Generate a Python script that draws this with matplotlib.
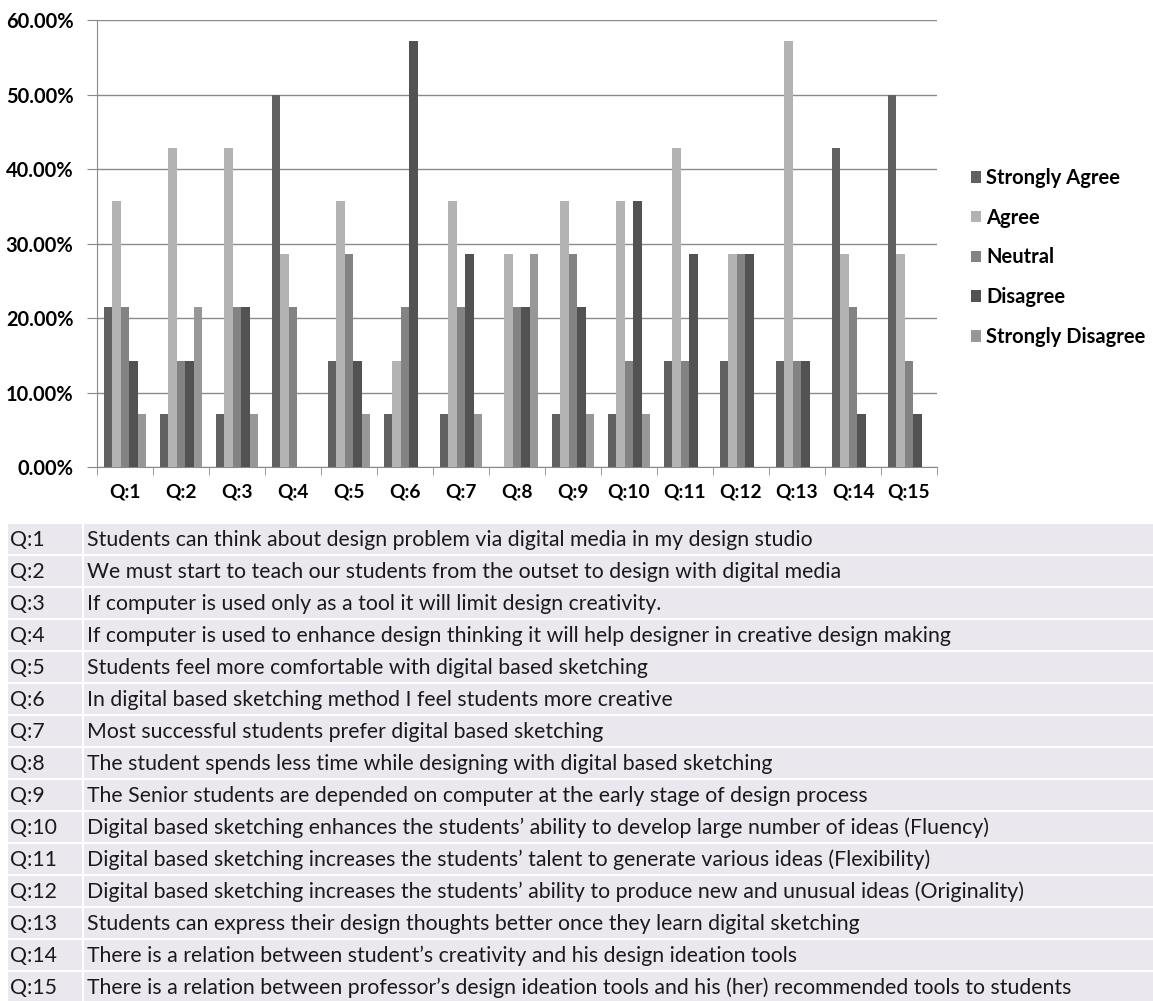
import numpy as np
import matplotlib
matplotlib.use("Agg")
import matplotlib.pyplot as plt
from matplotlib.patches import Rectangle
from matplotlib.ticker import FuncFormatter

plt.rcParams['font.family'] = ['Lato', 'DejaVu Sans']

# survey answers (share of respondents, %)
questions = ["Q:%d" % i for i in range(1, 16)]
strongly_agree    = [21.43, 7.14, 7.14, 50.00, 14.29, 7.14, 7.14, 0.00, 7.14, 7.14, 14.29, 14.29, 14.29, 42.86, 50.00]
agree             = [35.71, 42.86, 42.86, 28.57, 35.71, 14.29, 35.71, 28.57, 35.71, 35.71, 42.86, 28.57, 57.14, 28.57, 28.57]
neutral           = [21.43, 14.29, 21.43, 21.43, 28.57, 21.43, 21.43, 21.43, 28.57, 14.29, 14.29, 28.57, 14.29, 21.43, 14.29]
disagree          = [14.29, 14.29, 21.43, 0.00, 14.29, 57.14, 28.57, 21.43, 21.43, 35.71, 28.57, 28.57, 14.29, 7.14, 7.14]
strongly_disagree = [7.14, 21.43, 7.14, 0.00, 7.14, 0.00, 7.14, 28.57, 7.14, 7.14, 0.00, 0.00, 0.00, 0.00, 0.00]

series_names = ["Strongly Agree", "Agree", "Neutral", "Disagree", "Strongly Disagree"]
series_colors = ["#616161", "#b3b3b3", "#838383", "#525252", "#979797"]

statements = [
    "Students can think about design problem via digital media in my design studio",
    "We must start to teach our students from the outset to design with digital media",
    "If computer is used only as a tool it will limit design creativity.",
    "If computer is used to enhance design thinking it will help designer in creative design making",
    "Students feel more comfortable with digital based sketching",
    "In digital based sketching method I feel students more creative",
    "Most successful students prefer digital based sketching",
    "The student spends less time while designing with digital based sketching",
    "The Senior students are depended on computer at the early stage of design process",
    "Digital based sketching enhances the students\u2019 ability to develop large number of ideas (Fluency)",
    "Digital based sketching increases the students\u2019 talent to generate various ideas (Flexibility)",
    "Digital based sketching increases the students\u2019 ability to produce new and unusual ideas (Originality)",
    "Students can express their design thoughts better once they learn digital sketching",
    "There is a relation between student\u2019s creativity and his design ideation tools",
    "There is a relation between professor\u2019s design ideation tools and his (her) recommended tools to students",
]

W, H = 1153, 1001
fig = plt.figure(figsize=(W / 100, H / 100), dpi=100)

# question table underneath the chart, laid out in pixel units
tab = fig.add_axes([0, 0, 1, 1])
tab.set_xlim(0, W)
tab.set_ylim(H, 0)
tab.axis('off')
row_top, row_pitch, row_h = 524, 32, 30
for i, (q, s) in enumerate(zip(questions, statements)):
    y0 = row_top + i * row_pitch
    tab.add_patch(Rectangle((8, y0), 74, row_h, color="#eae8ee", lw=0))
    tab.add_patch(Rectangle((84, y0), W - 84, row_h, color="#eae8ee", lw=0))
    tab.text(10, y0 + row_h / 2 + 1, q, va='center', ha='left', fontsize=15.3, color="#1a1a1a")
    tab.text(87, y0 + row_h / 2 + 1, s, va='center', ha='left', fontsize=15.3, color="#1a1a1a")

ax = fig.add_axes([97 / W, 1 - 467 / H, 840 / W, 447 / H])
x = np.arange(len(questions))
bw = 0.152
data = [strongly_agree, agree, neutral, disagree, strongly_disagree]
handles = []
for k, (vals, name, col) in enumerate(zip(data, series_names, series_colors)):
    b = ax.bar(x + (k - 2) * bw, vals, width=bw, color=col, label=name, zorder=3)
    handles.append(b)

ax.set_xlim(-0.5, len(questions) - 0.5)
ax.set_ylim(0, 60)
ax.set_yticks(np.arange(0, 61, 10))
ax.yaxis.set_major_formatter(FuncFormatter(lambda v, p: "%.2f%%" % v))
ax.grid(axis='y', color="#8a8a8a", lw=1, zorder=0)
for sp in ['top', 'right']:
    ax.spines[sp].set_visible(False)
for sp in ['left', 'bottom']:
    ax.spines[sp].set_color("#8a8a8a")
ax.set_xticks(x)
ax.set_xticklabels(questions, fontsize=13.8, fontweight='bold')
ax.set_xticks(np.arange(-0.5, len(questions)), minor=True)
ax.tick_params(axis='x', which='major', length=0, pad=12)
ax.tick_params(axis='x', which='minor', length=6, color="#8a8a8a")
ax.tick_params(axis='y', length=7, color="#8a8a8a", labelsize=14.4, pad=10)
for lab in ax.get_yticklabels():
    lab.set_fontweight('bold')

fig.legend(handles=handles, labels=series_names, loc='upper left',
           bbox_to_anchor=(971 / W, 1 - 168 / H), frameon=False,
           prop={'weight': 'bold', 'size': 14.5}, handlelength=0.5, handleheight=0.5,
           handletextpad=0.25, labelspacing=0.98, borderpad=0, borderaxespad=0)

fig.savefig("out.png", dpi=100)
